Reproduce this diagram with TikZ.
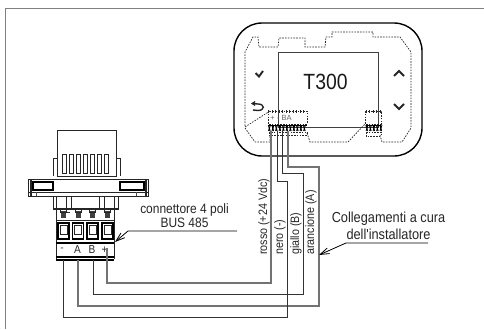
\documentclass[tikz,border=0pt]{standalone}
\usepackage{fontspec}
\setmainfont{Liberation Sans}
\newfontfamily\narrowfont[FakeStretch=0.88]{Liberation Sans}
\usetikzlibrary{arrows.meta}
\tikzset{
 frameline/.style={draw=black!50,line width=1.6pt},
 wire/.style={draw=black!80,line width=0.9pt},
 wiregrey/.style={draw=black!55,line width=1.1pt},
 body/.style={draw=black!85,line width=0.9pt},
 thickbody/.style={draw=black,line width=1.4pt},
 dashline/.style={draw=black!85,line width=0.7pt,dash pattern=on 1.6pt off 1.2pt},
 lbl/.style={inner sep=0pt,text=black!85,align=center},
 sidelbl/.style={lbl,rotate=90,anchor=west,font=\narrowfont\fontsize{12.2}{13}\selectfont},
 termlbl/.style={inner sep=0pt,font=\narrowfont\fontsize{11.5}{12}\selectfont,text=black!85},
 leader/.style={draw=black,line width=0.8pt},
 tip/.style={-{Straight Barb[length=9pt,width=6pt]}}
}
\begin{document}
\begin{tikzpicture}[x=1pt,y=-1pt]
\useasboundingbox (0,0) rectangle (484,329);
% frame
\draw[frameline] (5.5,329) -- (5.5,8.5) -- (484,8.5);
% device
\draw[thickbody,rounded corners=28pt] (234,23) rectangle (422,156);
\node[draw=black!75,line width=0.9pt,inner sep=0pt,minimum width=100pt,minimum height=75pt] (screen) at (328,89.5) {};
\node[inner sep=0pt,font=\narrowfont\fontsize{22}{24}\selectfont,text=black!90] (title) at (325.5,82) {T300};
% dashed shell
\draw[dashline] (270,111) -- (245,127) -- (245,52) -- (253,37) -- (258,37) -- (259,47) -- (278,47) -- (279,38) -- (305,38) -- (305,47) -- (325,47) -- (326,37) -- (332,37) -- (332,32) -- (373,32) -- (373,37) -- (400,37) -- (411,52) -- (411,128) -- (402,142) -- (382,142) -- (380,135);
\draw[dashline] (245,128) -- (255,142) -- (270,142) -- (270,135);
\draw[dashline] (307,133) -- (310,142) -- (348,142) -- (365,124);
\draw[dashline] (268,111) rectangle (307,124);
\draw[dashline] (269,132) rectangle (307,135);
\draw[dashline] (365,111) rectangle (381,124);
\draw[dashline] (366,132) rectangle (381,136);
% pin rows
\foreach \x in {268.5,272,275.5,279,282.5,286,289.5,293,296.5,300,303.5}{
 \draw[black!85,line width=1pt] (\x,110) -- (\x,113);
 \draw[black,line width=1.2pt] (\x,125) -- (\x+1.5,131);
 \draw[black,line width=0.8pt] (\x+2,125) -- (\x,131);
}
\foreach \x in {366,369.5,373,376.5,380}{
 \draw[black!85,line width=1pt] (\x,110) -- (\x,113);
 \draw[black,line width=1.2pt] (\x,125) -- (\x+1.5,131);
 \draw[black,line width=0.8pt] (\x+2,125) -- (\x,131);
}
\draw[black,line width=1pt] (268,125) -- (307,125);
\draw[black,line width=1pt] (366,125) -- (381,125);
\node[inner sep=0pt,font=\fontsize{7.5}{8}\selectfont,text=black!60] (pins) at (281,118) {+ - BA};
% button icons
\draw[black!85,line width=1.9pt] (255.5,73) -- (259,76.5) -- (263,71);
\draw[black!85,line width=1.9pt] (394,76) -- (399,71) -- (404,76);
\draw[black!85,line width=1.9pt] (394,104) -- (399,109) -- (404,104);
\draw[black!85,line width=1.4pt] (252,103.5) -- (258,104) .. controls (265,104) and (265,110.5) .. (258,110.5) -- (253,110);
\fill[black!85] (251,103.5) -- (255,101) -- (255,106) -- cycle;
% connector upper body
\draw[body] (57,176) -- (57,130) -- (116,130) -- (116,176) -- cycle;
\draw[body] (57,158) -- (53,158) -- (53,176) (116,158) -- (120,158) -- (120,176);
\foreach \x in {62.5,69.5,76.5,83.5,90.5,97.5,104.5}{
 \draw[body,line width=0.7pt] (\x,154) rectangle (\x+3.8,173);
}
% flange
\draw[body] (28,179) rectangle (148,196);
\draw[body] (30,180) rectangle (31,195);
\draw[body] (146,180) rectangle (145,195);
\draw[thickbody] (33,182) rectangle (53,190);
\draw[thickbody] (120,182) rectangle (144,190);
\draw[body] (28,192) -- (148,192);
\draw[black!70,line width=0.6pt] (36,192) -- (36,196) (136,192) -- (136,196);
% latches and posts
\draw[body] (53,196) -- (53,209) -- (118,209) -- (118,196);
\draw[body] (56,196) -- (56,209) (114,196) -- (114,209);
\draw[body] (53,208) -- (118,208);
\draw[body] (66,196) rectangle (71,208) (99,196) rectangle (104,208);
% screws
\foreach \x in {63,78,92,107}{
 \fill[black!75] (\x-2.5,211) rectangle (\x+2.5,218);
 \draw[body,line width=0.6pt] (\x-3,208) rectangle (\x+3,212);
}
\draw[body,line width=0.7pt] (63,212) -- (70,212);
% terminal block
\draw[body] (56,210) -- (56,259) (114,210) -- (114,259);
\draw[body] (56,220) -- (114,220);
\draw[thickbody] (56,243) -- (114,243);
\foreach \x in {58,72.5,87,102}{
 \draw[thickbody,line width=1.1pt] (\x,223) rectangle (\x+11,239);
 \draw[body,line width=0.6pt] (\x+2,225) rectangle (\x+9,234);
}
\draw[thickbody] (56,257) -- (114,257);
\draw[thickbody] (56,260) -- (114,260);
\node[termlbl,text=black!70] (tm) at (62,250) {-};
\node[termlbl] (ta) at (77.5,249.5) {A};
\node[termlbl] (tb) at (92,249.5) {B};
\node[termlbl] (tp) at (104.5,250) {+};
% wire anchors
\coordinate (cP) at (107,248);
\coordinate (cB) at (93,260);
\coordinate (cA) at (78,260);
\coordinate (cM) at (63,260);
\coordinate (dP) at (271,131);
\coordinate (dM) at (277,131);
\coordinate (dB) at (282,131);
\coordinate (dA) at (288,131);
% wires
\draw[wiregrey] (cP) -- (107,283) -- (271,283) -- (dP);
\draw[wire] (cB) -- (93,294) -- (303,294) -- (303,173) -- (282,173) -- (dB);
\draw[wiregrey] (cA) -- (78,306) -- (319,306) -- (319,167) -- (288,167) -- (dA);
\draw[wire] (cM) -- (63,317) -- (287,317) -- (287,181) -- (277,181) -- (dM);
% rotated labels
\node[sidelbl] (l1) at (264,255) {rosso (+24 Vdc)};
\node[sidelbl] (l2) at (280,255) {nero (-)};
\node[sidelbl] (l3) at (296,255) {giallo (B)};
\node[sidelbl] (l4) at (311,255) {arancione (A)};
% callouts
\node[lbl,font=\narrowfont\fontsize{13.6}{13.5}\selectfont] (c1) at (184.5,215.5) {connettore 4 poli\\BUS 485};
\node[lbl,font=\narrowfont\fontsize{14.5}{17}\selectfont] (c2) at (388.5,225.5) {Collegamenti a cura\\dell'installatore};
\coordinate (c1r) at (237,231);
\coordinate (c1k) at (128,231);
\coordinate (c1t) at (115,242);
\coordinate (c2r) at (428,243);
\coordinate (c2k) at (346,243);
\coordinate (c2t) at (319,255);
\draw[leader,tip] (c1r) -- (c1k) -- (c1t);
\draw[leader,tip] (c2r) -- (c2k) -- (c2t);
\end{tikzpicture}
\end{document}
